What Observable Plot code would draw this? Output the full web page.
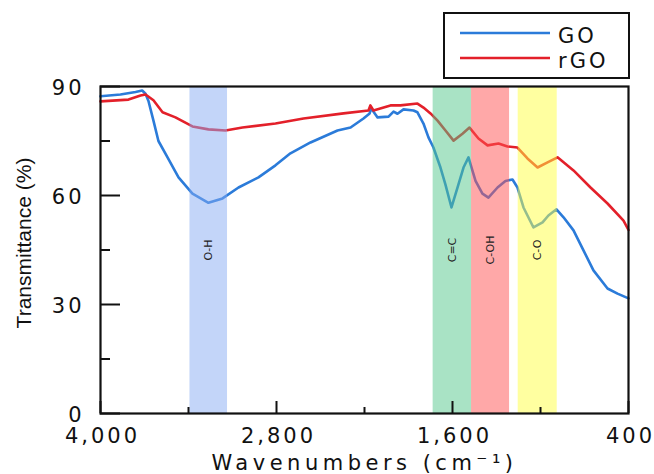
<!DOCTYPE html>
<html><head><meta charset="utf-8">
<script src="https://cdn.jsdelivr.net/npm/d3@7"></script>
<script src="https://cdn.jsdelivr.net/npm/@observablehq/plot@0.6"></script>
<style>
body{margin:0;background:#fff;}
#wrap{position:relative;width:654px;height:474px;}
#legend{position:absolute;left:443px;top:12px;width:183px;height:63px;border:2px solid #111;background:#fff;}
</style></head><body><div id="wrap"><div id="legend"></div></div>
<script>
const goWavenumber = [4000,3864,3761,3716,3693,3673,3639,3605,3543,3468,3373,3264,3168,3059,2923,2807,2705,2568,2384,2295,2207,2165,2155,2111,2036,2002,1975,1934,1866,1839,1798,1764,1730,1682,1648,1607,1566,1525,1491,1443,1396,1355,1293,1239,1191,1157,1116,1048,986,946,891,843,775,707,639,543,475,400];
const goTransmittance = [87.3,87.8,88.5,88.9,88.0,86.0,80.6,75.0,70.5,65.0,60.5,58.0,59.2,62.2,65.0,68.3,71.6,74.6,77.9,78.7,81.2,82.6,84.0,81.5,81.7,83.1,82.5,83.7,83.4,82.9,79.8,76.0,73.2,67.7,63.0,56.7,62.2,67.7,70.5,64.0,60.5,59.4,62.2,64.0,64.4,62.2,56.7,51.2,52.6,54.5,56.2,54.0,50.4,44.9,39.4,34.4,33.0,31.7];
const rgoWavenumber = [4000,3809,3727,3693,3639,3577,3489,3373,3264,3148,3032,2807,2616,2343,2173,2160,2139,2023,1955,1839,1798,1750,1702,1648,1593,1532,1484,1423,1361,1286,1225,1157,1089,1020,952,884,775,659,543,434,400];
const rgoTransmittance = [85.9,86.4,87.5,87.8,86.2,82.9,81.5,79.0,78.2,77.9,78.7,79.8,81.2,82.6,83.4,84.8,83.4,84.8,84.8,85.3,84.2,82.6,80.6,77.9,75.1,77.0,78.7,75.7,73.8,74.3,73.5,73.2,70.2,67.7,69.1,70.5,66.9,62.2,57.8,53.1,50.5];
const bandStart = [3390, 1732, 1470, 1152];
const bandEnd = [3134, 1470, 1211, 886];
const bandLabel = ["O-H", "C=C", "C-OH", "C-O"];
const bandColor = ["#87abf3", "#53c78b", "#ff5151", "#ffff41"];
const xTicksMajor = [4000, 2800, 1600, 400];
const xTicksMinor = [3400, 2200, 1000];
const yTicksMajor = [0, 30, 60, 90];
const yTicksMinor = [15, 45, 75];
const seriesNames = ["GO", "rGO"];
const seriesColors = ["#2b7bd9", "#e3202a"];
const xTitle = "Wavenumbers (cm\u207B\u00B9)";
const yTitle = "Transmittance (%)";

const W = 654, H = 474, mL = 100, mR = 26, mT = 86, mB = 61;
const frameW = W - mL - mR, frameH = H - mT - mB;

const go = goWavenumber.map((w, i) => ({w, t: goTransmittance[i]}));
const rgo = rgoWavenumber.map((w, i) => ({w, t: rgoTransmittance[i]}));
const bands = bandStart.map((s, i) => ({x1: s, x2: bandEnd[i], mid: (s + bandEnd[i]) / 2, label: bandLabel[i], color: bandColor[i]}));

const chart = Plot.plot({
  width: W, height: H,
  marginLeft: mL, marginRight: mR, marginTop: mT, marginBottom: mB,
  style: {fontFamily: "DejaVu Sans", fontSize: "21px", color: "#111", background: "#fff"},
  x: {domain: [4000, 400]},
  y: {domain: [0, 90]},
  color: {type: "identity"},
  marks: [
    Plot.line(go, {x: "w", y: "t", stroke: seriesColors[0], strokeWidth: 2.6}),
    Plot.line(rgo, {x: "w", y: "t", stroke: seriesColors[1], strokeWidth: 2.6}),
    Plot.rect(bands, {x1: "x1", x2: "x2", fill: d => d.color, fillOpacity: 0.5}),
    Plot.text(bands, {x: "mid", frameAnchor: "middle", text: "label", rotate: -90, fontSize: 11, fill: "#222"}),
    Plot.tickY(yTicksMajor, {y: d => d, insetRight: frameW - 20, stroke: "#111", strokeWidth: 2}),
    Plot.tickY(yTicksMinor, {y: d => d, insetRight: frameW - 10, stroke: "#111", strokeWidth: 2}),
    Plot.tickX(xTicksMajor, {x: d => d, insetTop: frameH - 12, stroke: "#111", strokeWidth: 2}),
    Plot.tickX(xTicksMinor, {x: d => d, insetTop: frameH - 6, stroke: "#111", strokeWidth: 2}),
    Plot.frame({stroke: "#111", strokeWidth: 2.2}),
    Plot.axisX({ticks: xTicksMajor, tickSize: 0, tickPadding: 15, tickFormat: d3.format(","), label: null, dx: 2}),
    Plot.axisY({ticks: yTicksMajor, tickSize: 0, tickPadding: 16, label: null, dy: 2}),
    Plot.text([xTitle], {text: d => d, frameAnchor: "bottom", textAnchor: "middle", dy: 56, fontSize: 21, fill: "#111"}),
    Plot.text([yTitle], {text: d => d, frameAnchor: "left", textAnchor: "middle", rotate: -90, dx: -76, dy: -7, fontSize: 21, fontFamily: "Liberation Sans", fill: "#111"})
  ]
});
document.getElementById("wrap").insertBefore(chart, document.getElementById("legend"));
const s = d3.select(chart);
s.selectAll('g[aria-label^="x-axis"] text, g[aria-label^="y-axis"] text').style("letter-spacing", "3px");
s.selectAll("text").filter(function () { return this.textContent === xTitle; }).style("letter-spacing", "4.5px");

// legend
const lg = d3.select("#legend").append("svg").attr("width", 183).attr("height", 63);
seriesNames.forEach((name, i) => {
  const y = 19 + i * 25;
  lg.append("line").attr("x1", 15).attr("x2", 105).attr("y1", y).attr("y2", y)
    .attr("stroke", seriesColors[i]).attr("stroke-width", 2.6);
  lg.append("text").attr("x", 113).attr("y", y + 10).text(name)
    .attr("font-family", "DejaVu Sans").attr("font-size", 21).attr("fill", "#111")
    .style("letter-spacing", "3px");
});
</script>
</body></html>
